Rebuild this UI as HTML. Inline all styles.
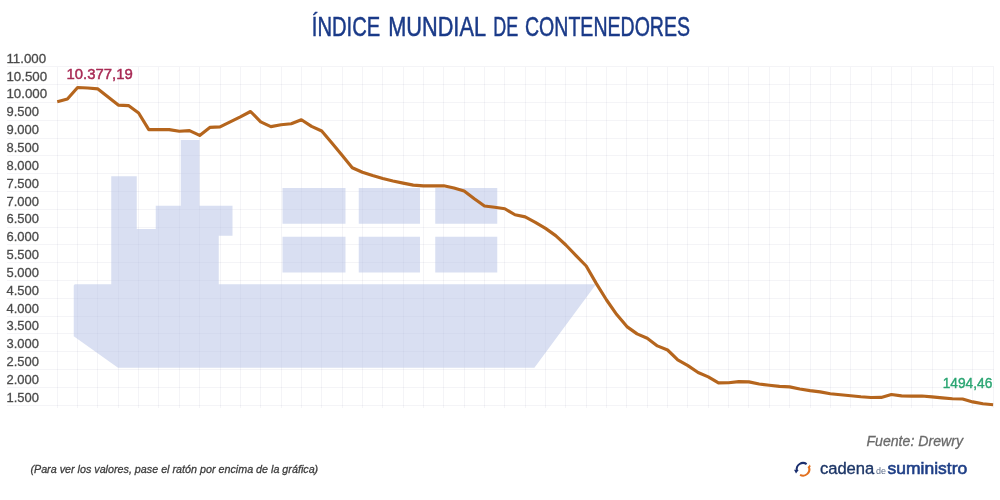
<!DOCTYPE html>
<html lang="es"><head><meta charset="utf-8"><title>Índice Mundial de Contenedores</title>
<style>
html,body{margin:0;padding:0;background:#fff;}
body{width:1000px;height:500px;overflow:hidden;font-family:"Liberation Sans",sans-serif;}
svg{display:block;}
svg text{font-family:"Liberation Sans",sans-serif;}
.grid line{stroke:rgba(60,75,125,0.058);stroke-width:1;shape-rendering:crispEdges;}
.ylab text{font-size:12.7px;fill:#4a4a4a;stroke:#4a4a4a;stroke-width:0.28px;}
.ship{fill:rgba(179,191,229,0.5);}
</style></head><body>
<svg width="1000" height="500" viewBox="0 0 1000 500">
<rect width="1000" height="500" fill="#fff"/>
<text y="36.3" font-size="27.3" fill="#1a3a88" stroke="#1a3a88" stroke-width="0.5"><tspan x="311.8" textLength="68.4" lengthAdjust="spacingAndGlyphs">ÍNDICE</tspan> <tspan x="388.2" textLength="97" lengthAdjust="spacingAndGlyphs">MUNDIAL</tspan> <tspan x="493.2" textLength="25" lengthAdjust="spacingAndGlyphs">DE</tspan> <tspan x="525.0" textLength="165" lengthAdjust="spacingAndGlyphs">CONTENEDORES</tspan></text>

<g class="grid">
<line x1="7" x2="993.5" y1="66.80" y2="66.80"/>
<line x1="7" x2="993.5" y1="84.61" y2="84.61"/>
<line x1="7" x2="993.5" y1="102.41" y2="102.41"/>
<line x1="7" x2="993.5" y1="120.22" y2="120.22"/>
<line x1="7" x2="993.5" y1="138.02" y2="138.02"/>
<line x1="7" x2="993.5" y1="155.83" y2="155.83"/>
<line x1="7" x2="993.5" y1="173.63" y2="173.63"/>
<line x1="7" x2="993.5" y1="191.44" y2="191.44"/>
<line x1="7" x2="993.5" y1="209.24" y2="209.24"/>
<line x1="7" x2="993.5" y1="227.05" y2="227.05"/>
<line x1="7" x2="993.5" y1="244.85" y2="244.85"/>
<line x1="7" x2="993.5" y1="262.66" y2="262.66"/>
<line x1="7" x2="993.5" y1="280.46" y2="280.46"/>
<line x1="7" x2="993.5" y1="298.27" y2="298.27"/>
<line x1="7" x2="993.5" y1="316.07" y2="316.07"/>
<line x1="7" x2="993.5" y1="333.88" y2="333.88"/>
<line x1="7" x2="993.5" y1="351.68" y2="351.68"/>
<line x1="7" x2="993.5" y1="369.49" y2="369.49"/>
<line x1="7" x2="993.5" y1="387.29" y2="387.29"/>
<line x1="7" x2="993.5" y1="405.10" y2="405.10"/>
<line x1="57.25" x2="57.25" y1="66.80" y2="407.5"/>
<line x1="77.59" x2="77.59" y1="66.80" y2="407.5"/>
<line x1="97.94" x2="97.94" y1="66.80" y2="407.5"/>
<line x1="118.28" x2="118.28" y1="66.80" y2="407.5"/>
<line x1="138.63" x2="138.63" y1="66.80" y2="407.5"/>
<line x1="158.97" x2="158.97" y1="66.80" y2="407.5"/>
<line x1="179.32" x2="179.32" y1="66.80" y2="407.5"/>
<line x1="199.66" x2="199.66" y1="66.80" y2="407.5"/>
<line x1="220.01" x2="220.01" y1="66.80" y2="407.5"/>
<line x1="240.35" x2="240.35" y1="66.80" y2="407.5"/>
<line x1="260.70" x2="260.70" y1="66.80" y2="407.5"/>
<line x1="281.04" x2="281.04" y1="66.80" y2="407.5"/>
<line x1="301.38" x2="301.38" y1="66.80" y2="407.5"/>
<line x1="321.73" x2="321.73" y1="66.80" y2="407.5"/>
<line x1="342.07" x2="342.07" y1="66.80" y2="407.5"/>
<line x1="362.42" x2="362.42" y1="66.80" y2="407.5"/>
<line x1="382.76" x2="382.76" y1="66.80" y2="407.5"/>
<line x1="403.11" x2="403.11" y1="66.80" y2="407.5"/>
<line x1="423.45" x2="423.45" y1="66.80" y2="407.5"/>
<line x1="443.80" x2="443.80" y1="66.80" y2="407.5"/>
<line x1="464.14" x2="464.14" y1="66.80" y2="407.5"/>
<line x1="484.49" x2="484.49" y1="66.80" y2="407.5"/>
<line x1="504.83" x2="504.83" y1="66.80" y2="407.5"/>
<line x1="525.18" x2="525.18" y1="66.80" y2="407.5"/>
<line x1="545.52" x2="545.52" y1="66.80" y2="407.5"/>
<line x1="565.86" x2="565.86" y1="66.80" y2="407.5"/>
<line x1="586.21" x2="586.21" y1="66.80" y2="407.5"/>
<line x1="606.55" x2="606.55" y1="66.80" y2="407.5"/>
<line x1="626.90" x2="626.90" y1="66.80" y2="407.5"/>
<line x1="647.24" x2="647.24" y1="66.80" y2="407.5"/>
<line x1="667.59" x2="667.59" y1="66.80" y2="407.5"/>
<line x1="687.93" x2="687.93" y1="66.80" y2="407.5"/>
<line x1="708.28" x2="708.28" y1="66.80" y2="407.5"/>
<line x1="728.62" x2="728.62" y1="66.80" y2="407.5"/>
<line x1="748.97" x2="748.97" y1="66.80" y2="407.5"/>
<line x1="769.31" x2="769.31" y1="66.80" y2="407.5"/>
<line x1="789.65" x2="789.65" y1="66.80" y2="407.5"/>
<line x1="810.00" x2="810.00" y1="66.80" y2="407.5"/>
<line x1="830.34" x2="830.34" y1="66.80" y2="407.5"/>
<line x1="850.69" x2="850.69" y1="66.80" y2="407.5"/>
<line x1="871.03" x2="871.03" y1="66.80" y2="407.5"/>
<line x1="891.38" x2="891.38" y1="66.80" y2="407.5"/>
<line x1="911.72" x2="911.72" y1="66.80" y2="407.5"/>
<line x1="932.07" x2="932.07" y1="66.80" y2="407.5"/>
<line x1="952.41" x2="952.41" y1="66.80" y2="407.5"/>
<line x1="972.76" x2="972.76" y1="66.80" y2="407.5"/>
<line x1="993.10" x2="993.10" y1="66.80" y2="407.5"/>
</g>
<g class="ship">
<path d="M73.75,285.7 Q73.75,284.2 75.25,284.2 H111.25 V176.25 H136.75 V229 H155.75 V205.75 H180.75 V140 H199.5 V205.75 H232.5 V235.75 H218.75 V284.2 H596 L534.4,367.8 H118 L73.75,336.25 Z"/>
<rect x="282.5" y="188" width="63" height="35.75"/>
<rect x="358.75" y="188" width="61.25" height="35.75"/>
<rect x="435.25" y="188" width="62" height="35.75"/>
<rect x="282.5" y="236.75" width="63" height="35.75"/>
<rect x="358.75" y="236.75" width="61.25" height="35.75"/>
<rect x="435.25" y="236.75" width="62" height="35.75"/>
</g>
<g class="ylab">
<text transform="translate(6.4,62.80) scale(1.05,1)">11.000</text>
<text transform="translate(6.4,80.64) scale(1.05,1)">10.500</text>
<text transform="translate(6.4,98.48) scale(1.05,1)">10.000</text>
<text transform="translate(6.5,116.33) scale(1.022,1)">9.500</text>
<text transform="translate(6.5,134.17) scale(1.022,1)">9.000</text>
<text transform="translate(6.5,152.01) scale(1.022,1)">8.500</text>
<text transform="translate(6.5,169.85) scale(1.022,1)">8.000</text>
<text transform="translate(6.5,187.69) scale(1.022,1)">7.500</text>
<text transform="translate(6.5,205.54) scale(1.022,1)">7.000</text>
<text transform="translate(6.5,223.38) scale(1.022,1)">6.500</text>
<text transform="translate(6.5,241.22) scale(1.022,1)">6.000</text>
<text transform="translate(6.5,259.06) scale(1.022,1)">5.500</text>
<text transform="translate(6.5,276.91) scale(1.022,1)">5.000</text>
<text transform="translate(6.5,294.75) scale(1.022,1)">4.500</text>
<text transform="translate(6.5,312.59) scale(1.022,1)">4.000</text>
<text transform="translate(6.5,330.43) scale(1.022,1)">3.500</text>
<text transform="translate(6.5,348.27) scale(1.022,1)">3.000</text>
<text transform="translate(6.5,366.12) scale(1.022,1)">2.500</text>
<text transform="translate(6.5,383.96) scale(1.022,1)">2.000</text>
<text transform="translate(6.5,401.80) scale(1.022,1)">1.500</text>
</g>
<path d="M57.25,101.70 C57.25,101.70 67.42,99.00 67.42,99.00 C67.42,99.00 77.59,87.55 77.59,87.55 C77.59,87.55 87.77,88.00 87.77,88.00 C87.77,88.00 97.94,88.90 97.94,88.90 C97.94,88.90 108.11,96.90 108.11,96.90 C108.11,96.90 118.28,105.10 118.28,105.10 C118.28,105.10 128.46,105.60 128.46,105.60 C128.46,105.60 138.63,113.00 138.63,113.00 C138.63,113.00 148.80,129.60 148.80,129.60 C148.80,129.60 158.97,129.60 158.97,129.60 C158.97,129.60 169.15,129.60 169.15,129.60 C169.15,129.60 179.32,131.25 179.32,131.25 C179.32,131.25 189.49,130.60 189.49,130.60 C189.49,130.60 199.66,135.40 199.66,135.40 C199.66,135.40 209.83,127.40 209.83,127.40 C209.83,127.40 220.01,126.90 220.01,126.90 C220.01,126.90 230.18,121.90 230.18,121.90 C230.18,121.90 240.35,116.90 240.35,116.90 C240.35,116.90 250.52,111.50 250.52,111.50 C250.52,111.50 260.70,121.90 260.70,121.90 C260.70,121.90 270.87,126.60 270.87,126.60 C270.87,126.60 281.04,124.75 281.04,124.75 C281.04,124.75 291.21,123.75 291.21,123.75 C291.21,123.75 301.38,119.75 301.38,119.75 C301.38,119.75 311.56,126.40 311.56,126.40 C311.56,126.40 321.73,131.00 321.73,131.00 C321.73,131.00 331.90,142.95 331.90,142.95 C331.90,142.95 342.07,155.30 342.07,155.30 C342.07,155.30 352.25,167.80 352.25,167.80 C352.25,167.80 362.42,172.25 362.42,172.25 C362.42,172.25 372.59,175.60 372.59,175.60 C372.59,175.60 382.76,178.50 382.76,178.50 C382.76,178.50 392.94,181.00 392.94,181.00 C392.94,181.00 403.11,183.10 403.11,183.10 C403.11,183.10 413.28,185.10 413.28,185.10 C413.28,185.10 423.45,185.90 423.45,185.90 C423.45,185.90 433.62,185.90 433.62,185.90 C433.62,185.90 443.80,185.80 443.80,185.80 C443.80,185.80 453.97,188.00 453.97,188.00 C453.97,188.00 464.14,191.00 464.14,191.00 C464.14,191.00 474.31,198.75 474.31,198.75 C474.31,198.75 484.49,206.00 484.49,206.00 C484.49,206.00 494.66,207.25 494.66,207.25 C494.66,207.25 504.83,208.75 504.83,208.75 C504.83,208.75 515.00,214.75 515.00,214.75 C515.00,214.75 525.18,216.90 525.18,216.90 C525.18,216.90 535.35,222.30 535.35,222.30 C535.35,222.30 545.52,228.40 545.52,228.40 C545.52,228.40 555.69,235.60 555.69,235.60 C555.69,235.60 565.86,245.00 565.86,245.00 C565.86,245.00 576.04,255.60 576.04,255.60 C576.04,255.60 586.21,266.00 586.21,266.00 C586.21,266.00 596.38,283.60 596.38,283.60 C596.38,283.60 606.55,300.00 606.55,300.00 C606.55,300.00 616.73,314.60 616.73,314.60 C616.73,314.60 626.90,326.60 626.90,326.60 C626.90,326.60 637.07,333.90 637.07,333.90 C637.07,333.90 647.24,338.30 647.24,338.30 C647.24,338.30 657.41,345.90 657.41,345.90 C657.41,345.90 667.59,350.00 667.59,350.00 C667.59,350.00 677.76,359.80 677.76,359.80 C677.76,359.80 687.93,365.60 687.93,365.60 C687.93,365.60 698.10,372.50 698.10,372.50 C698.10,372.50 708.28,376.90 708.28,376.90 C708.28,376.90 718.45,382.90 718.45,382.90 C718.45,382.90 728.62,382.75 728.62,382.75 C728.62,382.75 738.79,381.60 738.79,381.60 C738.79,381.60 748.97,381.90 748.97,381.90 C748.97,381.90 759.14,384.00 759.14,384.00 C759.14,384.00 769.31,385.25 769.31,385.25 C769.31,385.25 779.48,386.40 779.48,386.40 C779.48,386.40 789.65,386.90 789.65,386.90 C789.65,386.90 799.83,389.00 799.83,389.00 C799.83,389.00 810.00,390.60 810.00,390.60 C810.00,390.60 820.17,391.90 820.17,391.90 C820.17,391.90 830.34,393.75 830.34,393.75 C830.34,393.75 840.52,394.75 840.52,394.75 C840.52,394.75 850.69,395.75 850.69,395.75 C850.69,395.75 860.86,396.75 860.86,396.75 C860.86,396.75 871.03,397.50 871.03,397.50 C871.03,397.50 881.20,397.40 881.20,397.40 C881.20,397.40 891.38,394.50 891.38,394.50 C891.38,394.50 901.55,395.90 901.55,395.90 C901.55,395.90 911.72,396.10 911.72,396.10 C911.72,396.10 921.89,396.00 921.89,396.00 C921.89,396.00 932.07,396.90 932.07,396.90 C932.07,396.90 942.24,397.90 942.24,397.90 C942.24,397.90 952.41,398.75 952.41,398.75 C952.41,398.75 962.58,399.00 962.58,399.00 C962.58,399.00 972.76,401.90 972.76,401.90 C972.76,401.90 982.93,403.75 982.93,403.75 C982.93,403.75 993.10,404.75 993.10,404.75" fill="none" stroke="#b5651d" stroke-width="3.15" stroke-linejoin="round" stroke-linecap="butt"/>
<text x="66.5" y="79.4" font-size="14.6" fill="#a82a55" stroke="#a82a55" stroke-width="0.45" textLength="66.2" lengthAdjust="spacingAndGlyphs">10.377,19</text>
<text x="942.7" y="387.5" font-size="14.4" fill="#2aa572" stroke="#2aa572" stroke-width="0.4" textLength="49.6" lengthAdjust="spacingAndGlyphs">1494,46</text>
<text x="866.4" y="445.9" font-size="15" font-style="italic" fill="#6a6a6a" stroke="#6a6a6a" stroke-width="0.3" textLength="96.6" lengthAdjust="spacingAndGlyphs">Fuente: Drewry</text>
<text x="30.4" y="473.0" font-size="11.5" font-style="italic" fill="#3c3c3c" stroke="#3c3c3c" stroke-width="0.3" textLength="287.8" lengthAdjust="spacingAndGlyphs">(Para ver los valores, pase el ratón por encima de la gráfica)</text>
<g fill="none" stroke-width="2.05" stroke-linecap="butt">
<path d="M806.61,464.14 A6.3,6.3 0 0 0 796.80,470.39" stroke="#1b2f6e"/>
<path d="M808.71,466.64 A6.3,6.3 0 0 1 800.04,474.86" stroke="#e2701f"/>
</g>
<path d="M794.0,469.8 L798.7,470.0 L796.0,473.5 Z" fill="#1b2f6e"/>
<path d="M807.5,467.5 L810.7,467.0 L809.9,464.6 Z" fill="#e2701f"/>
<text x="819.9" y="474.2" font-size="17.2" fill="#1c3566" stroke="#1c3566" stroke-width="0.35" textLength="54.4" lengthAdjust="spacingAndGlyphs">cadena</text>
<text x="875.9" y="474.2" font-size="9" fill="#5d6d8a" textLength="10" lengthAdjust="spacingAndGlyphs">de</text>
<text x="887.6" y="474.2" font-size="17.2" fill="#1e3e86" stroke="#1e3e86" stroke-width="0.6" textLength="79.6" lengthAdjust="spacingAndGlyphs">suministro</text>
</svg>
</body></html>
